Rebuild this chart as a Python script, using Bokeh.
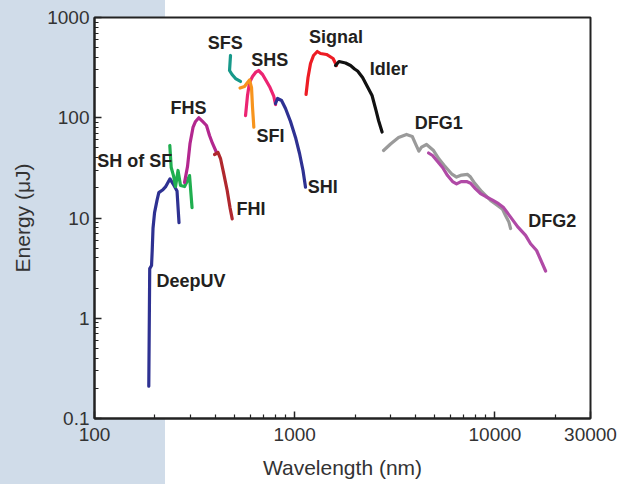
from bokeh.plotting import figure
from bokeh.models import FixedTicker, CustomJSTickFormatter
from bokeh.embed import file_html
from bokeh.resources import INLINE
from bokeh.core.properties import value

# ---------------- data (wavelength nm, energy uJ) ----------------
deepuv_x = [186.7, 188.7, 192.7, 194.2, 196.0, 199.5, 205.2, 209.5, 218.6, 226.2, 238.3, 249.5, 258.3, 264.3]
deepuv_y = [0.21, 3.13, 3.36, 4.74, 7.9, 11.3, 15.0, 17.9, 19.0, 20.4, 24.6, 21.1, 18.6, 9.0]

shsf_x = [237.7, 241.6, 248.0, 253.9, 261.3, 268.9, 281.6, 291.4, 298.3, 307.0]
shsf_y = [52.9, 31.9, 26.5, 20.6, 29.8, 21.1, 20.6, 23.7, 26.5, 12.7]

fhs_x = [281.6, 291.4, 299.9, 310.4, 319.6, 331.9, 346.4, 362.5, 375.3, 388.5, 406.8]
fhs_y = [22.6, 32.6, 55.4, 80.0, 91.8, 99.9, 91.8, 83.7, 66.5, 55.4, 45.0]

fhi_x = [397.6, 414.0, 426.0, 441.0, 459.0, 475.0, 487.3]
fhi_y = [43.0, 45.0, 39.2, 28.4, 19.2, 12.7, 9.8]

sfs_x = [477.8, 472.5, 486.3, 506.2, 536.0]
sfs_y = [418.0, 296.0, 270.0, 246.0, 230.0]

sfi_x = [533.1, 561.4, 581.0, 594.6, 608.5, 615.5, 624.8]
sfi_y = [198.0, 205.0, 225.0, 238.0, 200.0, 126.5, 80.5]

shs_x = [567.9, 581.0, 594.6, 615.5, 637.2, 659.6, 690.8, 719.0, 752.9, 786.5, 802.0]
shs_y = [105.0, 167.0, 225.0, 258.0, 283.0, 296.0, 270.0, 235.0, 200.0, 163.0, 135.5]

shi_x = [802.0, 820.6, 859.3, 899.5, 952.7, 1009.0, 1057.0, 1100.0, 1132.0]
shi_y = [138.7, 155.6, 148.6, 123.7, 91.8, 63.6, 44.0, 29.8, 20.3]

signal_x = [1139, 1165, 1199, 1241, 1296, 1345, 1441, 1554, 1617]
signal_y = [170.6, 252.0, 347.5, 418.0, 458.0, 437.5, 427.6, 390.0, 332.0]

idler_x = [1599, 1664, 1794, 1900, 1990, 2060, 2182, 2311, 2433, 2548, 2622, 2731]
idler_y = [332.0, 364.0, 351.6, 332.0, 306.5, 292.7, 252.0, 202.7, 166.7, 118.0, 93.9, 72.1]

dfg1_x = [2777, 3010, 3300, 3617, 3864, 4012, 4168, 4299, 4553, 4935, 5246, 5556, 6070, 6430,
          6811, 7296, 7553, 7909, 8574, 9507, 10300, 10910, 11290, 11740, 11970]
dfg1_y = [47.1, 54.7, 63.5, 68.1, 65.0, 54.9, 46.4, 50.9, 54.1, 47.1, 38.9, 33.8, 27.6, 25.6,
          26.8, 27.2, 25.6, 22.3, 18.4, 14.96, 13.3, 12.2, 10.6, 9.1, 7.85]

dfg2_x = [4659, 4879, 5169, 5474, 5798, 6141, 6430, 6772, 7214, 7553, 8001, 8472, 8977, 9727,
          10420, 11040, 11970, 12970, 14220, 15060, 16140, 17900]
dfg2_y = [44.5, 42.0, 36.6, 31.9, 26.5, 23.1, 21.9, 23.1, 23.1, 22.2, 19.5, 17.55, 16.4, 15.1,
          13.9, 12.7, 10.2, 8.2, 6.7, 5.53, 4.74, 2.96]

label_text = ["SFS", "SHS", "FHS", "SFI", "SH of SF", "FHI", "DeepUV", "Signal", "Idler", "DFG1", "DFG2", "SHI"]
label_x = [368, 606, 239.7, 644, 103.1, 512, 204, 1177, 2372, 3981, 14670, 1163]
label_y = [555, 381, 125.8, 66.5, 36.9, 12.4, 2.33, 636, 307.7, 88.3, 9.44, 20.3]

x_ticks = [100, 1000, 10000, 30000]
x_minor = [200, 300, 400, 500, 600, 700, 800, 900,
           2000, 3000, 4000, 5000, 6000, 7000, 8000, 9000, 20000]
y_ticks = [0.1, 1, 10, 100, 1000]
y_minor = [0.2, 0.3, 0.4, 0.5, 0.6, 0.7, 0.8, 0.9, 2, 3, 4, 5, 6, 7, 8, 9,
           20, 30, 40, 50, 60, 70, 80, 90, 200, 300, 400, 500, 600, 700, 800, 900]

series = [
    (dfg1_x, dfg1_y, "#9a9a9a"),
    (dfg2_x, dfg2_y, "#b04aa6"),
    (deepuv_x, deepuv_y, "#2e3192"),
    (shsf_x, shsf_y, "#1fae4f"),
    (fhs_x, fhs_y, "#b3278f"),
    (fhi_x, fhi_y, "#b0282e"),
    (sfs_x, sfs_y, "#17998a"),
    (shs_x, shs_y, "#ec2472"),
    (sfi_x, sfi_y, "#f7941d"),
    (shi_x, shi_y, "#2e3192"),
    (signal_x, signal_y, "#ed1c24"),
    (idler_x, idler_y, "#111111"),
]

FONT = "Liberation Sans"

p = figure(width=620, height=484, x_axis_type="log", y_axis_type="log",
           x_range=(100, 30000), y_range=(0.1, 1000),
           output_backend="svg", toolbar_location=None,
           min_border_left=94, min_border_right=30, min_border_top=17, min_border_bottom=66)
p.border_fill_color = None
p.background_fill_color = "white"
p.outline_line_color = "#222222"
p.outline_line_width = 2
p.grid.visible = False

try:
    from bokeh.models import GlobalInlineStyleSheet
    p.stylesheets = [GlobalInlineStyleSheet(
        css="html { background: linear-gradient(90deg, #d0dce9 165px, #ffffff 165px) !important; }")]
except Exception:
    p.styles = {"background": "linear-gradient(90deg, #d0dce9 165px, #ffffff 165px)"}

fmt = "return String(tick);"
p.xaxis.ticker = FixedTicker(ticks=x_ticks, minor_ticks=x_minor)
p.yaxis.ticker = FixedTicker(ticks=y_ticks, minor_ticks=y_minor)
p.xaxis.formatter = CustomJSTickFormatter(code=fmt)
p.yaxis.formatter = CustomJSTickFormatter(code=fmt)

for ax in (p.xaxis, p.yaxis):
    ax.axis_line_color = "#222222"
    ax.axis_line_width = 2
    ax.major_tick_line_color = "#222222"
    ax.minor_tick_line_color = "#222222"
    ax.major_tick_line_width = 1.5
    ax.minor_tick_line_width = 1.2
    ax.major_tick_in = 7
    ax.major_tick_out = 0
    ax.minor_tick_in = 4
    ax.minor_tick_out = 0
    ax.major_label_text_font = FONT
    ax.major_label_text_font_size = "19px"
    ax.major_label_text_color = "#333333"
    ax.axis_label_text_font = FONT
    ax.axis_label_text_font_size = "21px"
    ax.axis_label_text_font_style = "normal"
    ax.axis_label_text_color = "#333333"

p.xaxis.axis_label = "Wavelength (nm)"
p.yaxis.axis_label = "Energy (μJ)"
p.xaxis.major_label_standoff = 9
p.yaxis.major_label_standoff = 5
p.xaxis.axis_label_standoff = 12
p.yaxis.axis_label_standoff = 10

for xs, ys, c in series:
    p.line(xs, ys, line_color=c, line_width=3.2, line_cap="round", line_join="round")

p.text(x=label_x, y=label_y, text=label_text, text_font=value(FONT),
       text_font_size="18px", text_font_style="bold", text_color="#231f20",
       text_align="left", text_baseline="middle")

open("out.html", "w").write(file_html(p, INLINE))
